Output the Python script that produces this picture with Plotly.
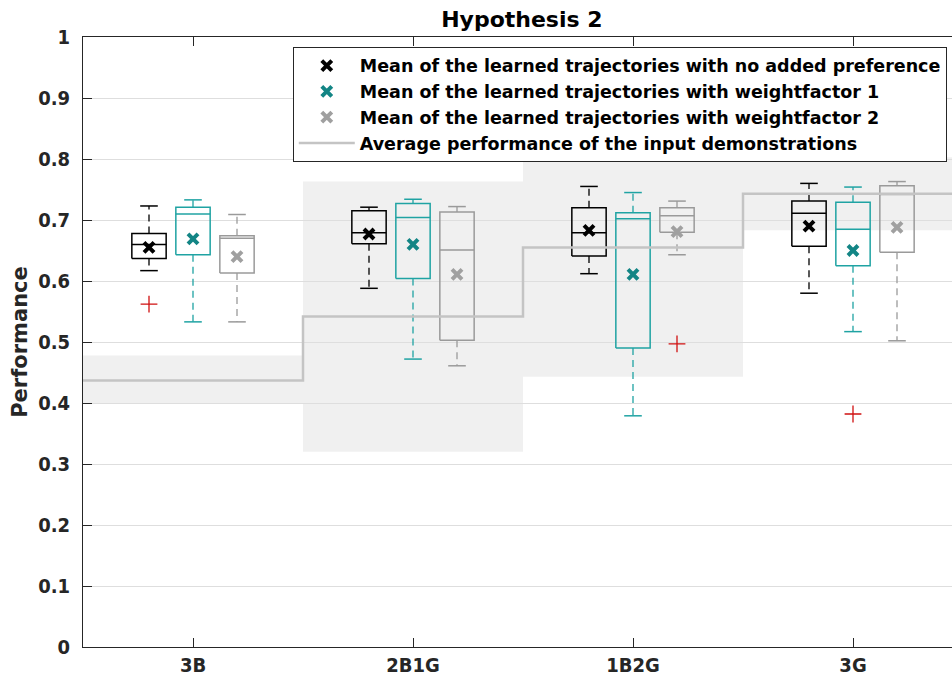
import plotly.graph_objects as go

# ---- data -------------------------------------------------------------
categories = ["3B", "2B1G", "1B2G", "3G"]

series_names = [
    "Mean of the learned trajectories with no added preference",
    "Mean of the learned trajectories with weightfactor 1",
    "Mean of the learned trajectories with weightfactor 2",
]

# box statistics per series (one value per category)
upper_whisker = [
    [0.723, 0.721, 0.755, 0.760],
    [0.733, 0.734, 0.745, 0.754],
    [0.709, 0.722, 0.731, 0.763],
]
q3 = [
    [0.678, 0.715, 0.720, 0.731],
    [0.721, 0.727, 0.712, 0.729],
    [0.674, 0.713, 0.720, 0.756],
]
median = [
    [0.660, 0.679, 0.679, 0.711],
    [0.710, 0.704, 0.702, 0.685],
    [0.670, 0.651, 0.707, 0.742],
]
q1 = [
    [0.637, 0.661, 0.641, 0.657],
    [0.643, 0.604, 0.490, 0.625],
    [0.613, 0.503, 0.680, 0.647],
]
lower_whisker = [
    [0.617, 0.588, 0.612, 0.580],
    [0.533, 0.472, 0.379, 0.517],
    [0.533, 0.461, 0.643, 0.502],
]
means = [
    [0.655, 0.677, 0.683, 0.690],
    [0.669, 0.660, 0.611, 0.650],
    [0.640, 0.611, 0.681, 0.688],
]

# outliers: (series index, category index, value)
outliers = [(0, 0, 0.562), (2, 2, 0.497), (1, 3, 0.382)]

# performance of the input demonstrations
demo_mean = [0.437, 0.542, 0.655, 0.743]
demo_low = [0.400, 0.320, 0.443, 0.683]
demo_high = [0.478, 0.763, 0.818, 0.803]

# ---- styling ----------------------------------------------------------
box_colors = ["#000000", "#1fa3a3", "#9a9a9a"]
mean_colors = ["#000000", "#138585", "#a0a0a0"]
offsets = [-0.2, 0.0, 0.2]
half_w = 0.078
cap_w = 0.04
axis_col = "#262626"
cond = "DejaVu Sans Condensed, DejaVu Sans"
bold = "DejaVu Sans"

fig = go.Figure()

# shaded range of the demonstrations
for i in range(len(categories)):
    fig.add_shape(type="rect", xref="x", yref="y",
                  x0=i + 0.5, x1=i + 1.5, y0=demo_low[i], y1=demo_high[i],
                  fillcolor="#f0f0f0", line_width=0, layer="below")

# boxes, whiskers, caps
for s in range(3):
    bx, by, wx, wy, cx, cy = [], [], [], [], [], []
    for i in range(len(categories)):
        c = i + 1 + offsets[s]
        bx += [c - half_w, c + half_w, c + half_w, c - half_w, c - half_w, None,
               c - half_w, c + half_w, None]
        by += [q1[s][i], q1[s][i], q3[s][i], q3[s][i], q1[s][i], None,
               median[s][i], median[s][i], None]
        wx += [c, c, None, c, c, None]
        wy += [q3[s][i], upper_whisker[s][i], None, q1[s][i], lower_whisker[s][i], None]
        cx += [c - cap_w, c + cap_w, None, c - cap_w, c + cap_w, None]
        cy += [upper_whisker[s][i], upper_whisker[s][i], None,
               lower_whisker[s][i], lower_whisker[s][i], None]
    fig.add_trace(go.Scatter(x=wx, y=wy, mode="lines", showlegend=False, hoverinfo="skip",
                             line=dict(color=box_colors[s], width=1.3, dash="7px,5px")))
    fig.add_trace(go.Scatter(x=cx, y=cy, mode="lines", showlegend=False, hoverinfo="skip",
                             line=dict(color=box_colors[s], width=1.5)))
    fig.add_trace(go.Scatter(x=bx, y=by, mode="lines", showlegend=False, hoverinfo="skip",
                             line=dict(color=box_colors[s], width=1.5)))

# outliers
fig.add_trace(go.Scatter(
    x=[o[1] + 1 + offsets[o[0]] for o in outliers],
    y=[o[2] for o in outliers],
    mode="markers", showlegend=False,
    marker=dict(symbol="cross-thin", size=12, line=dict(color="#d01010", width=1.3)),
))

# means (legend entries)
for s in range(3):
    fig.add_trace(go.Scatter(
        x=[i + 1 + offsets[s] for i in range(len(categories))],
        y=means[s], mode="markers", name=series_names[s],
        marker=dict(symbol="x-thin", size=10, color=mean_colors[s],
                    line=dict(color=mean_colors[s], width=4)),
    ))

# average performance of the demonstrations (step line)
step_x = [i + 0.5 for i in range(len(categories) + 1)]
step_y = demo_mean + [demo_mean[-1]]
fig.add_trace(go.Scatter(
    x=step_x, y=step_y, mode="lines", line_shape="hv",
    name="Average performance of the input demonstrations",
    line=dict(color="#c4c4c4", width=2.5),
))

fig.update_layout(
    width=952, height=677,
    margin=dict(l=83, r=0, t=37, b=30),
    plot_bgcolor="white", paper_bgcolor="white",
    title=dict(text="Hypothesis 2", x=0.505, xref="paper", xanchor="center",
               y=0.971, yref="container", yanchor="middle",
               font=dict(family=bold, size=22, weight="bold", color="#000000")),
    legend=dict(x=0.994, xanchor="right", y=0.984, yanchor="top",
                bgcolor="white", bordercolor=axis_col, borderwidth=1,
                itemwidth=56, tracegroupgap=0,
                font=dict(family=bold, size=17.5, weight="bold", color="#000000")),
    xaxis=dict(range=[0.5, 4.45], tickvals=[1, 2, 3, 4], ticktext=categories,
               showgrid=False, zeroline=False, showline=True, linecolor=axis_col,
               linewidth=1, mirror="ticks", ticks="inside", ticklen=9,
               tickcolor=axis_col,
               tickfont=dict(family=cond, size=20, weight="bold", color=axis_col)),
    yaxis=dict(range=[0, 1], dtick=0.1, showgrid=True, gridcolor="#dedede",
               gridwidth=1, zeroline=False, showline=True, linecolor=axis_col,
               linewidth=1, ticks="inside", ticklen=9, tickcolor=axis_col,
               ticklabelstandoff=8,
               tickfont=dict(family=cond, size=20, weight="bold", color=axis_col),
               title=dict(text="Performance", standoff=4,
                          font=dict(family=bold, size=21, weight="bold",
                                    color=axis_col))),
)

fig.write_html("out.html")
